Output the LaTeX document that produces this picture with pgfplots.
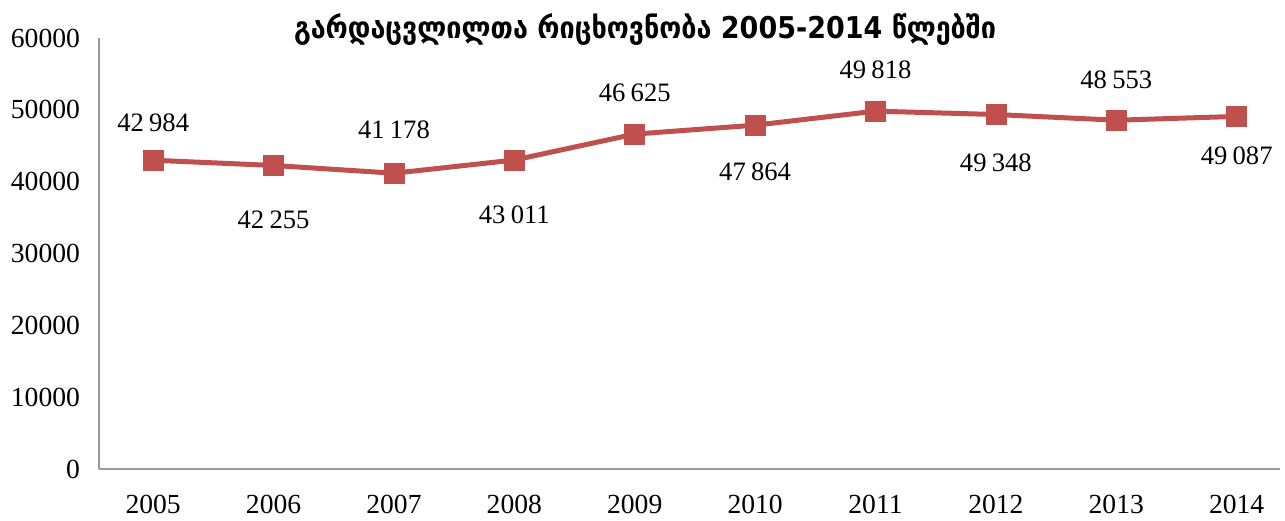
\documentclass[border=0pt]{standalone}
\usepackage{pgfplots}
\pgfplotsset{compat=1.18}
\usepackage{fontspec}
\setmainfont{Liberation Serif}
\newfontfamily\geofont[Script=Georgian]{DejaVu Sans Condensed}
\definecolor{lineRed}{HTML}{C0504D}
\begin{document}
\begin{tikzpicture}
\useasboundingbox (0,0) rectangle (642.5pt,260pt);
\begin{axis}[
  at={(49.5pt,25.5pt)}, anchor=south west,
  scale only axis, width=590.5pt, height=215.5pt,
  xmin=-0.45, xmax=9.36, ymin=0, ymax=60000,
  axis x line*=bottom, axis y line*=left,
  axis line style={draw=gray!80, line width=0.6pt},
  ytick={0,10000,20000,30000,40000,50000,60000},
  scaled y ticks=false,
  xtick={0,...,9},
  xticklabels={2005,2006,2007,2008,2009,2010,2011,2012,2013,2014},
  major tick length=0pt,
  tick style={draw=none},
  /pgf/number format/.cd, 1000 sep={}, assume math mode=true,
  /pgfplots/.cd,
  ticklabel style={font=\fontsize{13.8}{15}\selectfont},
  xticklabel style={yshift=-9.5pt},
  yticklabel style={xshift=-6pt},
  clip=false,
  every node near coord/.append style={font=\fontsize{13.3}{15}\selectfont, text=black, anchor=center},
]
\addplot[color=lineRed, line width=2.5pt, mark=square*, mark size=5pt,
  mark options={solid, fill=lineRed, draw=lineRed, line width=0.3pt}]
  coordinates {(0,42984) (1,42255) (2,41178) (3,43011) (4,46625) (5,47864) (6,49818) (7,49348) (8,48553) (9,49087)};
\addplot[draw=none, mark=none, point meta=explicit symbolic, nodes near coords,
  visualization depends on={\thisrow{dy}\as\dy},
  every node near coord/.append style={yshift=\dy pt}]
  table[x=x, y=y, meta=label] {
x y dy label
0 42984 18.5 42\hspace{0.2em}984
1 42255 -27 42\hspace{0.2em}255
2 41178 21.5 41\hspace{0.2em}178
3 43011 -27.5 43\hspace{0.2em}011
4 46625 20.5 46\hspace{0.2em}625
5 47864 -23.5 47\hspace{0.2em}864
6 49818 20.5 49\hspace{0.2em}818
7 49348 -24 49\hspace{0.2em}348
8 48553 20 48\hspace{0.2em}553
9 49087 -19.5 49\hspace{0.2em}087
};
\end{axis}
\node[font=\geofont\bfseries\fontsize{15}{17}\selectfont] at (322.5pt,245pt) {გარდაცვლილთა რიცხოვნობა 2005-2014 წლებში};
\end{tikzpicture}
\end{document}
